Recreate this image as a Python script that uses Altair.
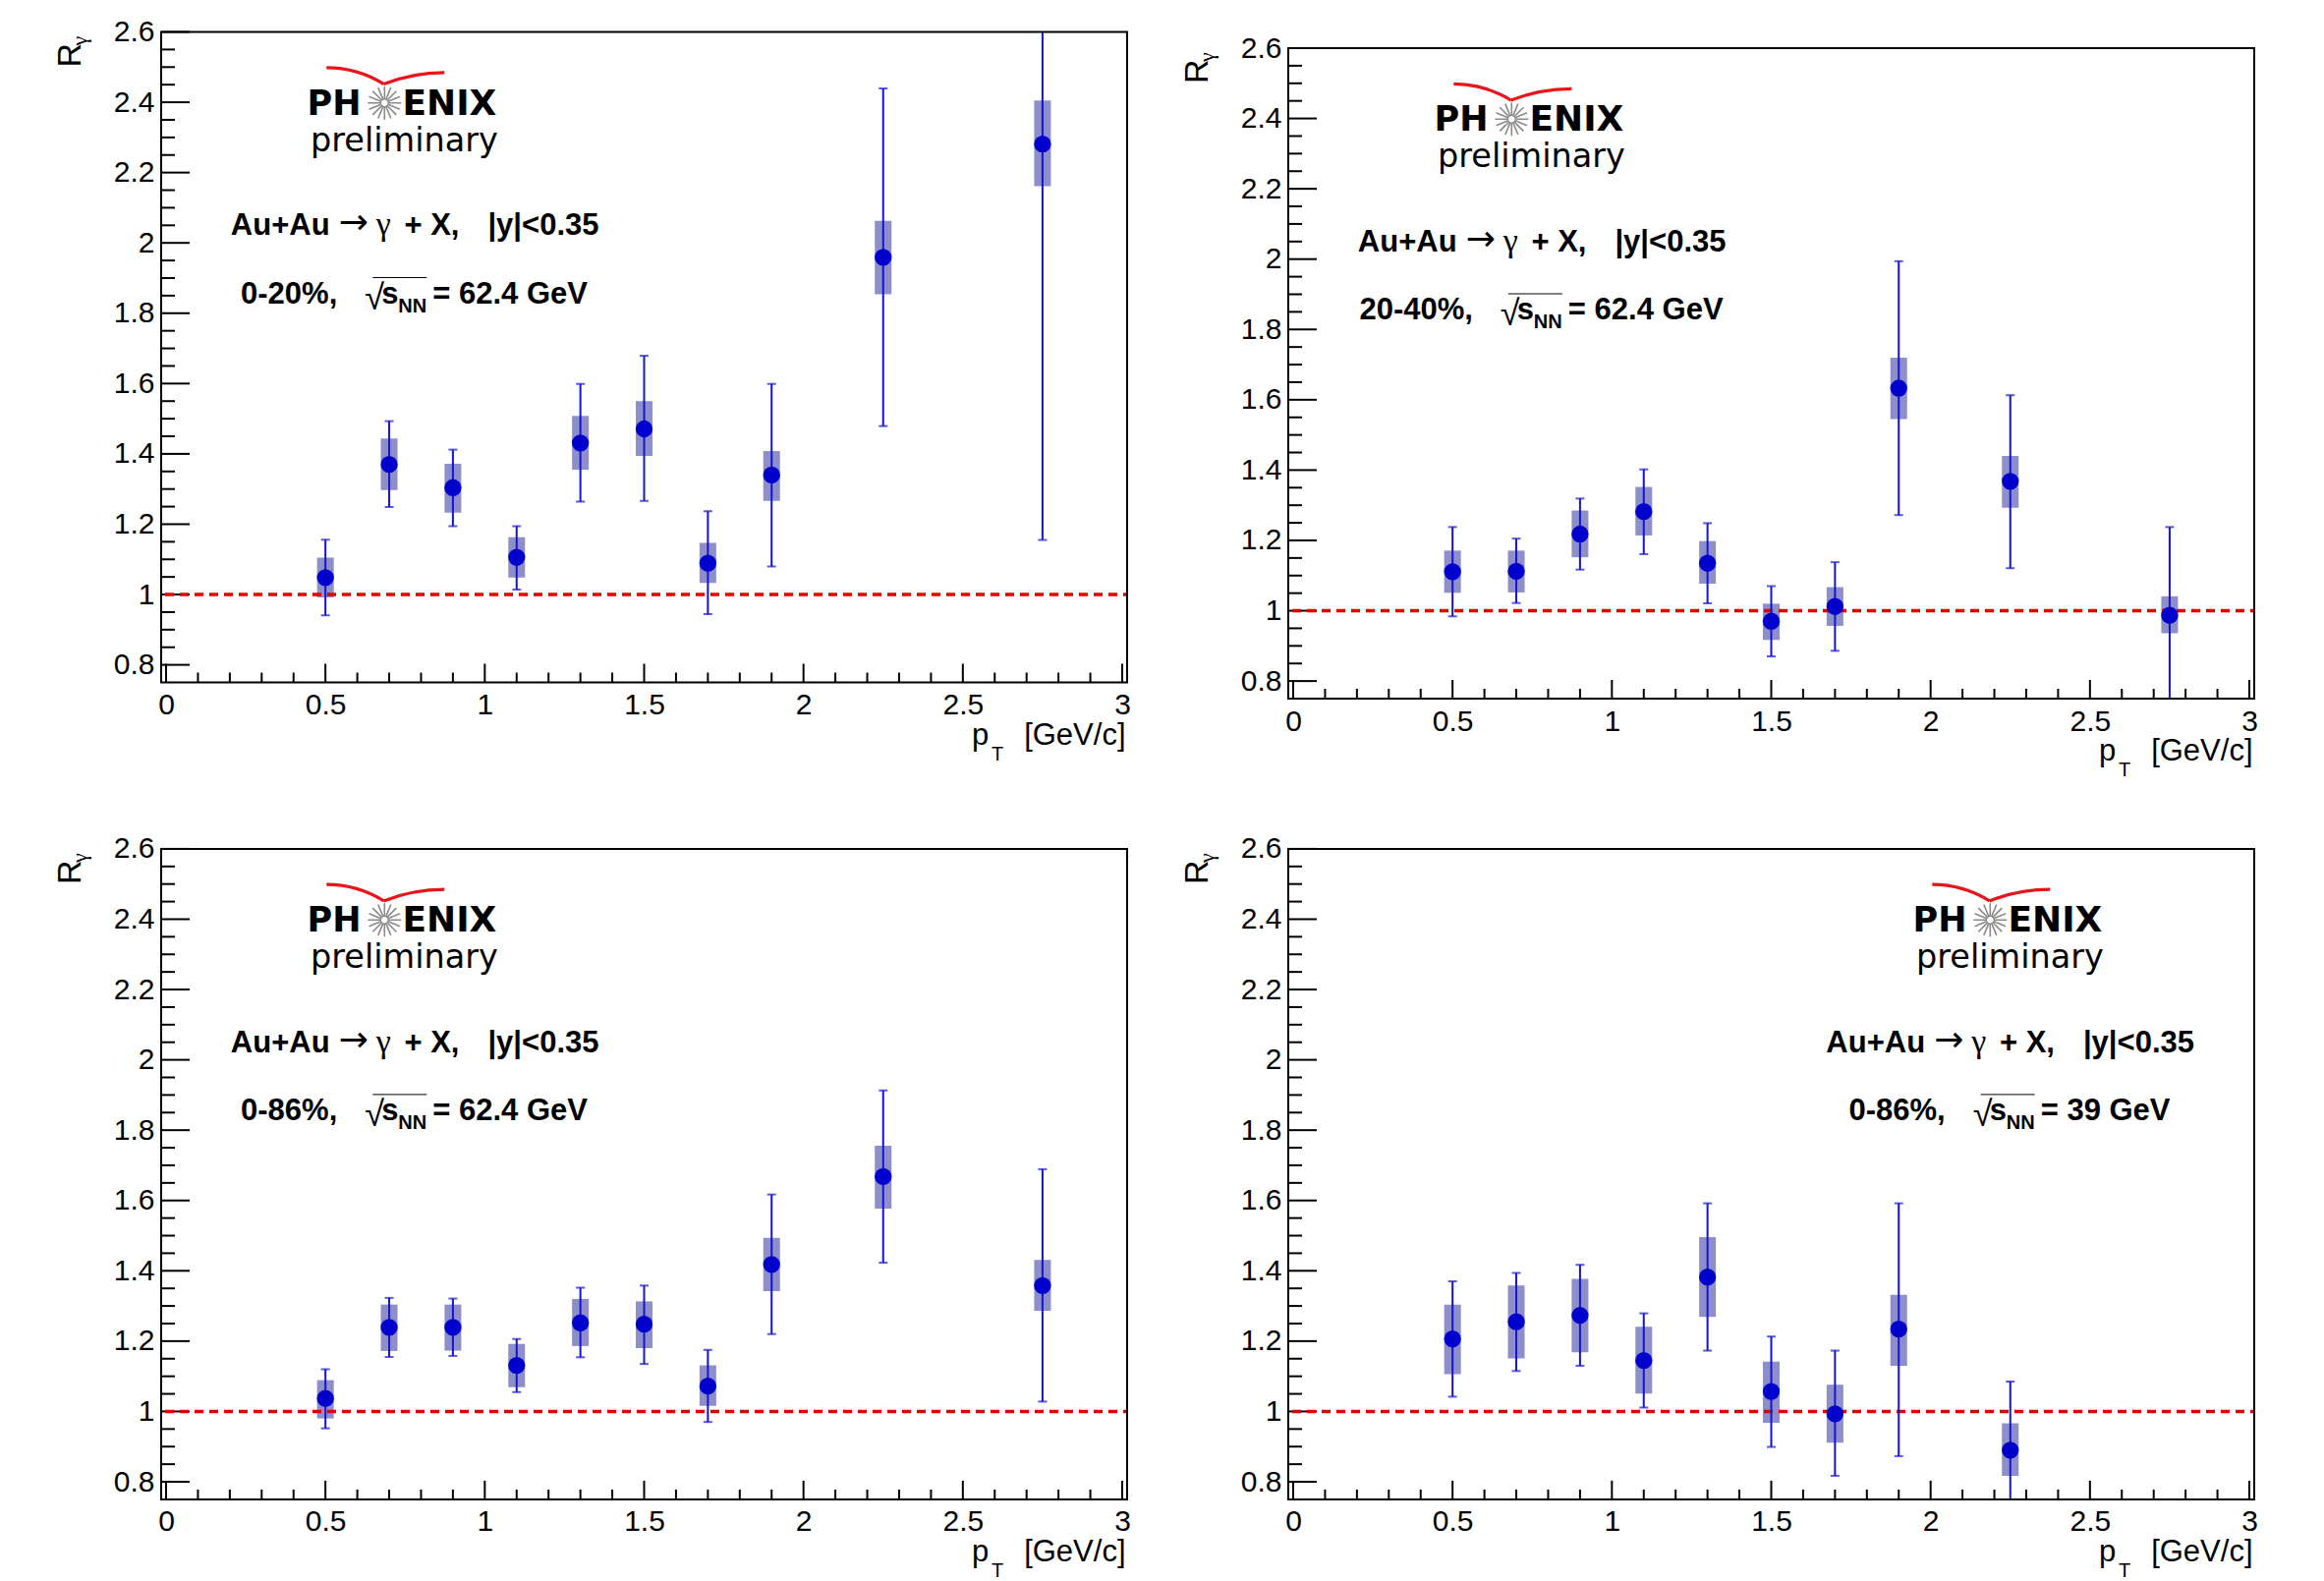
import math
import altair as alt
import pandas as pd

# ---------------- data ----------------
PT = [0.5, 0.7, 0.9, 1.1, 1.3, 1.5, 1.7, 1.9, 2.25, 2.75]

R_0_20 = [1.048, 1.370, 1.304, 1.106, 1.431, 1.471, 1.089, 1.340, 1.959, 2.281]
STAT_LO_0_20 = [0.941, 1.249, 1.194, 1.014, 1.264, 1.266, 0.944, 1.080, 1.479, 1.155]
STAT_HI_0_20 = [1.156, 1.493, 1.412, 1.194, 1.599, 1.679, 1.237, 1.599, 2.439, 3.407]
SYS_LO_0_20 = [0.992, 1.297, 1.233, 1.048, 1.355, 1.394, 1.033, 1.266, 1.854, 2.161]
SYS_HI_0_20 = [1.105, 1.444, 1.372, 1.163, 1.508, 1.550, 1.147, 1.408, 2.063, 2.405]

R_20_40 = [1.111, 1.112, 1.218, 1.282, 1.135, 0.970, 1.012, 1.633, 1.368, 0.987]
STAT_LO_20_40 = [0.984, 1.022, 1.117, 1.161, 1.021, 0.870, 0.886, 1.272, 1.121, 0.736]
STAT_HI_20_40 = [1.238, 1.205, 1.319, 1.402, 1.249, 1.070, 1.138, 1.994, 1.613, 1.238]
SYS_LO_20_40 = [1.051, 1.052, 1.152, 1.214, 1.077, 0.917, 0.957, 1.545, 1.293, 0.936]
SYS_HI_20_40 = [1.171, 1.171, 1.285, 1.352, 1.198, 1.020, 1.067, 1.720, 1.440, 1.041]

R_0_86 = [1.037, 1.239, 1.239, 1.131, 1.252, 1.248, 1.072, 1.418, 1.668, 1.358]
STAT_LO_0_86 = [0.952, 1.155, 1.158, 1.055, 1.154, 1.135, 0.970, 1.220, 1.423, 1.028]
STAT_HI_0_86 = [1.120, 1.323, 1.321, 1.206, 1.352, 1.358, 1.175, 1.617, 1.913, 1.689]
SYS_LO_0_86 = [0.980, 1.172, 1.173, 1.069, 1.186, 1.180, 1.016, 1.342, 1.577, 1.286]
SYS_HI_0_86 = [1.089, 1.304, 1.304, 1.192, 1.320, 1.313, 1.131, 1.494, 1.756, 1.431]

R_39 = [1.206, 1.255, 1.273, 1.145, 1.382, 1.057, 0.993, 1.234, 0.890]
STAT_LO_39 = [1.042, 1.115, 1.130, 1.011, 1.173, 0.899, 0.817, 0.873, 0.695]
STAT_HI_39 = [1.370, 1.394, 1.417, 1.279, 1.592, 1.213, 1.173, 1.592, 1.085]
SYS_LO_39 = [1.106, 1.151, 1.168, 1.051, 1.269, 0.968, 0.911, 1.130, 0.817]
SYS_HI_39 = [1.304, 1.358, 1.377, 1.241, 1.496, 1.142, 1.076, 1.332, 0.966]

CENTRALITY = ["0-20%,", "20-40%,", "0-86%,", "0-86%,"]
ENERGY = ["= 62.4 GeV", "= 62.4 GeV", "= 62.4 GeV", "= 39 GeV"]

X_DOMAIN = [0, 3]
Y_DOMAIN = [0.75, 2.6]
X_MAJOR = [0, 0.5, 1, 1.5, 2, 2.5, 3]
X_MINOR = [round(0.1 * i, 2) for i in range(1, 30) if i % 5]
Y_MAJOR = [0.8, 1.0, 1.2, 1.4, 1.6, 1.8, 2.0, 2.2, 2.4, 2.6]
Y_MINOR = [round(0.8 + 0.05 * i, 2) for i in range(0, 37) if i % 4]

# ---------------- style ----------------
W, H = 983, 662
FONT = "Liberation Sans"
SERIF = "Liberation Serif"
LOGO_FONT = "DejaVu Sans"
SYS_COLOR = "#8e8ecb"
ERR_COLOR = "#1414d6"
MARK_COLOR = "#0000cc"
RED = "#e00000"
LOGO_RED = "#e8141a"
STAR_GRAY = "#8a8a8a"
LINE_FS = 31
LABEL_FS = 30

ARIAL_BOLD = {c: 0.556 for c in "0123456789"}
ARIAL_BOLD.update({"-": 0.333, "%": 0.889, ",": 0.278, " ": 0.278, "=": 0.584,
                   ".": 0.278, "G": 0.778, "e": 0.556, "V": 0.667})


def tw(s, size):
    return sum(ARIAL_BOLD[c] for c in s) * size


def one_row():
    return pd.DataFrame({"k": [0]})


def text(t, x, y, size, font=FONT, weight="normal", align="left",
         color="black", angle=0, baseline="alphabetic"):
    return alt.Chart(one_row()).mark_text(
        text=t, font=font, fontSize=size, fontWeight=weight, align=align,
        baseline=baseline, color=color, angle=angle
    ).encode(x=alt.value(x), y=alt.value(y))


def seg(x1, y1, x2, y2, color, width):
    return alt.Chart(one_row()).mark_rule(color=color, strokeWidth=width).encode(
        x=alt.value(x1), y=alt.value(y1), x2=alt.value(x2), y2=alt.value(y2))


def panel(r, slo, shi, elo, ehi, centrality, energy, logo_dx, text_cx, dy=0.0):
    n = len(r)
    hp = H + dy
    df = pd.DataFrame({"pt": PT[:n], "r": r, "slo": slo, "shi": shi, "elo": elo, "ehi": ehi})
    xs = alt.Scale(domain=X_DOMAIN, nice=False, zero=False)
    ys = alt.Scale(domain=Y_DOMAIN, range=[hp, dy], nice=False, zero=False)
    xa = alt.Axis(values=X_MAJOR, format="~g", ticks=False, domain=False, grid=False,
                  labelPadding=8, labelFlush=False, labelFont=FONT, labelFontSize=LABEL_FS,
                  labelColor="black", title=None)
    ya = alt.Axis(values=Y_MAJOR, format="~g", ticks=False, domain=False, grid=False,
                  labelPadding=7, labelFont=FONT, labelFontSize=LABEL_FS, labelColor="black",
                  title=None)

    def X(f):
        return alt.X(f, type="quantitative", scale=xs, axis=xa)

    def Y(f):
        return alt.Y(f, type="quantitative", scale=ys, axis=ya)

    base = alt.Chart(df)
    layers = []
    # ticks (ROOT style, inward)
    layers.append(alt.Chart(pd.DataFrame({"v": Y_MAJOR})).mark_rule(color="black", strokeWidth=2)
                  .encode(y=Y("v"), x=alt.value(0), x2=alt.value(29)))
    layers.append(alt.Chart(pd.DataFrame({"v": Y_MINOR})).mark_rule(color="black", strokeWidth=2)
                  .encode(y=Y("v"), x=alt.value(0), x2=alt.value(14)))
    layers.append(alt.Chart(pd.DataFrame({"v": X_MAJOR})).mark_rule(color="black", strokeWidth=2)
                  .encode(x=X("v"), y=alt.value(hp), y2=alt.value(hp - 19)))
    layers.append(alt.Chart(pd.DataFrame({"v": X_MINOR})).mark_rule(color="black", strokeWidth=2)
                  .encode(x=X("v"), y=alt.value(hp), y2=alt.value(hp - 10)))
    # systematic boxes
    layers.append(base.mark_bar(size=17, color=SYS_COLOR, clip=True)
                  .encode(x=X("pt"), y=Y("slo"), y2="shi"))
    # reference line at 1
    layers.append(alt.Chart(pd.DataFrame({"one": [1.0]}))
                  .mark_rule(color=RED, strokeWidth=3.5, strokeDash=[9, 6])
                  .encode(y=Y("one"), x=alt.value(4), x2=alt.value(W)))
    # statistical error bars
    layers.append(base.mark_rule(color=ERR_COLOR, strokeWidth=2, clip=True)
                  .encode(x=X("pt"), y=Y("elo"), y2="ehi"))
    for f in ("elo", "ehi"):
        layers.append(base.mark_tick(color=ERR_COLOR, thickness=2, size=9,
                                     orient="horizontal", clip=True)
                      .encode(x=X("pt"), y=Y(f)))
    # points
    layers.append(base.mark_circle(size=300, color=MARK_COLOR, opacity=1)
                  .encode(x=X("pt"), y=Y("r")))

    # frame
    layers.append(alt.Chart(one_row()).mark_rect(filled=False, color="black", strokeWidth=2)
                  .encode(x=alt.value(0), x2=alt.value(W), y=alt.value(dy), y2=alt.value(hp)))

    # axis titles
    layers.append(text("R", -82, 36 + dy, 34, angle=270))
    layers.append(text("\u03b3", -76, 14 + dy, 22, font=SERIF, angle=270))
    layers.append(text("p", 825, hp + 63, 31))
    layers.append(text("T", 845, hp + 79, 20))
    layers.append(text("[GeV/c]", 981.5, hp + 63, 31, align="right"))

    # PHENIX logo
    lx = logo_dx
    layers.append(alt.Chart(one_row()).mark_arc(radius=111.6, radius2=108.4, theta=0.0,
                                                theta2=0.56, color=LOGO_RED)
                  .encode(x=alt.value(168.3 + lx), y=alt.value(146.3 + dy)))
    layers.append(alt.Chart(one_row()).mark_arc(radius=170.0, radius2=166.8, theta=5.908,
                                                theta2=6.2832, color=LOGO_RED)
                  .encode(x=alt.value(288.3 + lx), y=alt.value(209.7 + dy)))
    layers.append(text("PH", 148.5 + lx, 84 + dy, 35, font=LOGO_FONT, weight="bold"))
    layers.append(text("ENIX", 245.5 + lx, 84 + dy, 36, font=LOGO_FONT, weight="bold"))
    cx, cy, rs = 227.3 + lx, 72.3 + dy, 17
    for k in range(8):
        a = math.pi * k / 8
        layers.append(seg(cx - rs * math.cos(a), cy - rs * math.sin(a),
                          cx + rs * math.cos(a), cy + rs * math.sin(a), STAR_GRAY, 1.6))
    layers.append(alt.Chart(one_row()).mark_circle(size=60, color="white", stroke=STAR_GRAY,
                                                   strokeWidth=1.2, opacity=1)
                  .encode(x=alt.value(cx), y=alt.value(cy)))
    layers.append(text("preliminary", 152 + lx, 121.3 + dy, 33.5, font=LOGO_FONT))

    # reaction line: Au+Au -> gamma + X,   |y|<0.35
    s = text_cx - 373.3 / 2
    by1 = 206.6 + dy
    layers.append(text("Au+Au", s, by1, LINE_FS, weight="bold"))
    layers.append(text("\u2192", s + 110, by1 - 1, 36, font=LOGO_FONT))
    layers.append(text("\u03b3", s + 148, by1, 34, font=SERIF))
    layers.append(text("+ X,", s + 176.6, by1, LINE_FS, weight="bold"))
    layers.append(text("|y|<0.35", s + 261.6, by1, LINE_FS, weight="bold"))

    # centrality / energy line
    pre_w = tw(centrality, LINE_FS)
    suf_w = tw(energy, LINE_FS)
    total = pre_w + 97 + suf_w
    x0 = text_cx - total / 2
    e = x0 + pre_w
    by = 276 + dy
    layers.append(text(centrality, x0, by, LINE_FS, weight="bold"))
    layers.append(text("\u221a", e + 28, by + 6, 36))
    layers.append(seg(e + 36, by - 26, e + 91, by - 26, "black", 1))
    layers.append(text("s", e + 45, by, LINE_FS, weight="bold"))
    layers.append(text("NN", e + 62, by + 9, 20, weight="bold"))
    layers.append(text(energy, e + 97, by, LINE_FS, weight="bold"))

    return alt.layer(*layers).properties(width=W, height=hp)


p1 = panel(R_0_20, SYS_LO_0_20, SYS_HI_0_20, STAT_LO_0_20, STAT_HI_0_20,
           CENTRALITY[0], ENERGY[0], 0, 257.5)
p2 = panel(R_20_40, SYS_LO_20_40, SYS_HI_20_40, STAT_LO_20_40, STAT_HI_20_40,
           CENTRALITY[1], ENERGY[1], 0, 257.5, dy=16.5)
p3 = panel(R_0_86, SYS_LO_0_86, SYS_HI_0_86, STAT_LO_0_86, STAT_HI_0_86,
           CENTRALITY[2], ENERGY[2], 0, 257.5)
p4 = panel(R_39, SYS_LO_39, SYS_HI_39, STAT_LO_39, STAT_HI_39,
           CENTRALITY[3], ENERGY[3], 487, 734)

chart = alt.vconcat(
    alt.hconcat(p1, p2, spacing=50),
    alt.hconcat(p3, p4, spacing=50),
    spacing=53.4,
).properties(
    padding={"left": 46, "top": 8.5, "right": 5, "bottom": 5},
    background="white",
).configure_view(stroke="transparent")

chart.save("out.html", embed_options={"renderer": "svg", "actions": False})
